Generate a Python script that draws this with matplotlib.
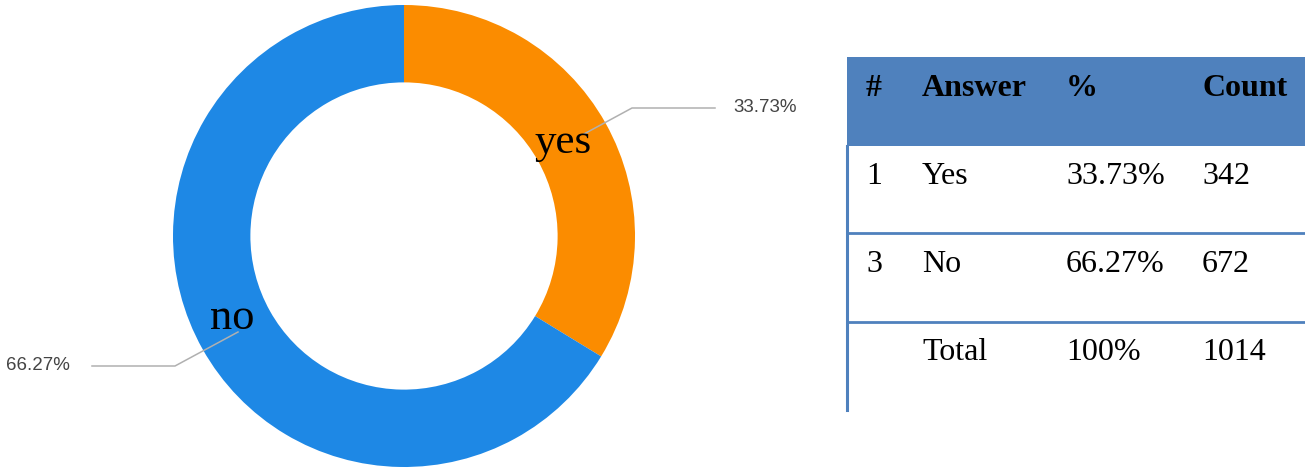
import matplotlib.pyplot as plt
from matplotlib.patches import Rectangle

# survey answers
answers = ["yes", "no"]
counts = [342, 672]
percents = ["33.73%", "66.27%"]

# summary table
table_header = ["#", "Answer", "%", "Count"]
table_rows = [
    ["1", "Yes", "33.73%", "342"],
    ["3", "No", "66.27%", "672"],
    ["", "Total", "100%", "1014"],
]

W, H = 1305, 470
ORANGE = "#FB8C00"
BLUE = "#1E88E5"
TABLE_BLUE = "#4F81BD"
SERIF = ["Liberation Serif", "DejaVu Serif"]
SANS = ["Liberation Sans", "DejaVu Sans"]

fig = plt.figure(figsize=(W / 100, H / 100), dpi=100)
ax = fig.add_axes([0, 0, 1, 1])

# donut, pixel coordinates with y measured upward
cx, cy, r = 404, H - 236, 231
ax.pie(
    counts,
    colors=[ORANGE, BLUE],
    startangle=90,
    counterclock=False,
    center=(cx, cy),
    radius=r,
    wedgeprops=dict(width=r * 0.335, edgecolor="none", antialiased=True),
)

# slice names inside the ring
ax.text(563, H - 143, answers[0], fontsize=31, family=SERIF, ha="center", va="center")
ax.text(232, H - 318, answers[1], fontsize=32, family=SERIF, ha="center", va="center")

# leader lines and percent labels
ax.plot([584, 632, 715], [H - 134, H - 108, H - 108], color="#b0b0b0", lw=1.1)
ax.text(733, H - 108, percents[0], fontsize=13.5, family=SANS, color="#444444",
        ha="left", va="center")
ax.plot([238, 175, 92], [H - 332, H - 366, H - 366], color="#b0b0b0", lw=1.1)
ax.text(6, H - 366, percents[1], fontsize=13.5, family=SANS, color="#444444",
        ha="left", va="center")

# table
x_left, x_right = 847, 1305
col_x = [866, 922, 1066, 1202]
header_top, header_bot = 57, 146
row_lines = [233, 322]
row_text_y = [176, 264, 352]
ax.add_patch(Rectangle((x_left, H - header_bot), x_right - x_left, header_bot - header_top,
                       facecolor=TABLE_BLUE, edgecolor="none"))
for x, label in zip(col_x, table_header):
    ax.text(x, H - 88, label, fontsize=23, fontweight="bold", family=SERIF,
            ha="left", va="center", color="black")
for y in row_lines:
    ax.plot([x_left, x_right], [H - y, H - y], color=TABLE_BLUE, lw=2)
ax.plot([x_left, x_left], [H - header_bot, H - 410], color=TABLE_BLUE, lw=2.2)
for y, row in zip(row_text_y, table_rows):
    for x, cell in zip(col_x, row):
        ax.text(x, H - y, cell, fontsize=23, family=SERIF, ha="left", va="center", color="black")

ax.set_xlim(0, W)
ax.set_ylim(0, H)
ax.set_aspect("auto")
ax.axis("off")

fig.savefig("out.png", dpi=100)
